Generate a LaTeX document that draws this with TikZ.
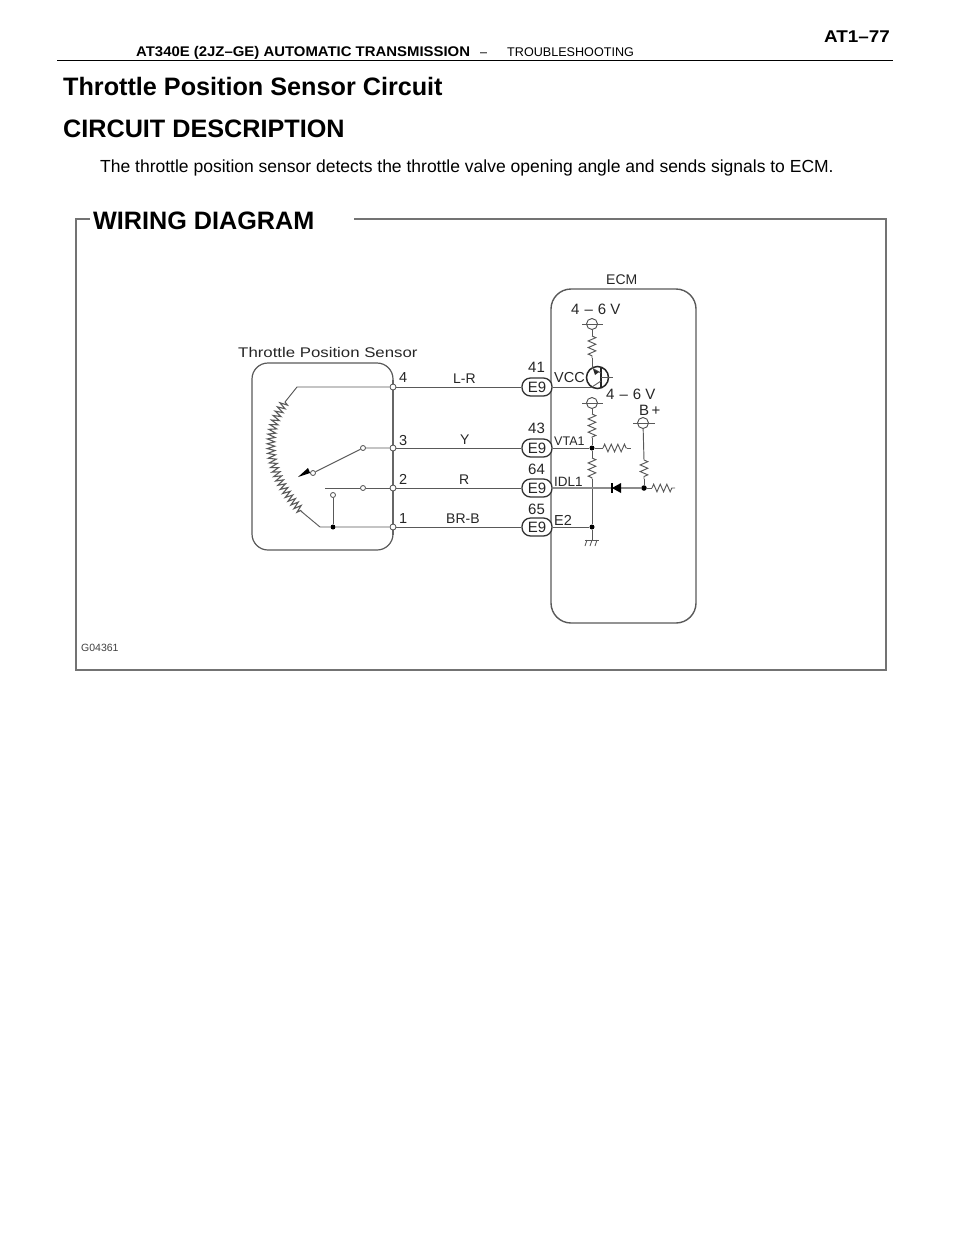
\documentclass[tikz,border=0pt]{standalone}
\usepackage{fontspec}
\setmainfont{Liberation Sans}
\usetikzlibrary{decorations.pathmorphing,arrows.meta}
\newcommand{\fsz}[1]{\fontsize{#1bp}{#1bp}\selectfont}
\tikzset{
 txt/.style={inner sep=0pt,anchor=base west,text=black},
 lbl/.style={inner sep=0pt,anchor=base west,text=black!85,font=\fsz{14}},
 wire/.style={draw=black!65,line width=0.95pt},
 bus/.style={draw=black!55,line width=1.6pt},
 pin/.style={circle,draw=black!70,fill=white,line width=0.8pt,inner sep=0pt,minimum size=6bp},
 dotn/.style={circle,fill=black,inner sep=0pt,minimum size=5.5bp},
 pill/.style={rounded corners=8.5bp,draw=black!80,fill=white,line width=1.3pt,minimum width=30bp,minimum height=18bp,inner sep=0pt,font=\fsz{15},text=black!85},
 supply/.style={circle,draw=black!70,line width=0.9pt,inner sep=0pt,minimum size=11bp},
 res/.style={wire,decoration={zigzag,segment length=6.6bp,amplitude=3.8bp},decorate},
 coil/.style={wire,line width=1.1pt,decoration={zigzag,segment length=4.6bp,amplitude=3.8bp},decorate},
}
\begin{document}
\begin{tikzpicture}[x=1bp,y=-1bp]
\useasboundingbox (0,0) rectangle (960,1242);
% page header
\draw[black,line width=1.6pt] (57,60.5) -- (893,60.5);
\node[txt,font=\fsz{14}\bfseries,xscale=1.065,transform shape] (hdr) at (136,56) {AT340E (2JZ--GE) AUTOMATIC TRANSMISSION};
\node[txt,font=\fsz{12.6}] (hdash) at (480,56) {--};
\node[txt,font=\fsz{12.6}] (hsec) at (507,56) {TROUBLESHOOTING};
\node[txt,font=\fsz{17}\bfseries,xscale=1.11,transform shape] (pg) at (824,42) {AT1--77};
\node[txt,font=\fsz{25.2}\bfseries] (title) at (63,95) {Throttle Position Sensor Circuit};
\node[txt,font=\fsz{25.2}\bfseries] (cd) at (63,137) {CIRCUIT DESCRIPTION};
\node[txt,font=\fsz{17.5}] (body) at (100,172) {The throttle position sensor detects the throttle valve opening angle and sends signals to ECM.};
% frame
\node[txt,font=\fsz{25.2}\bfseries] (wd) at (93,229) {WIRING DIAGRAM};
\draw[draw=black!55,line width=1.1pt] (90,219) -- (76,219) -- (76,670) -- (886,670) -- (886,219) -- (354,219);
\node[txt,text=black!75,font=\fsz{10.5}] (gnum) at (81,651) {G04361};
% sensor
\node[lbl,font=\fsz{14},xscale=1.2,transform shape] (tps) at (238,357) {Throttle Position Sensor};
\draw[draw=black!65,line width=1.2pt,rounded corners=16bp] (393,363) -- (252,363) -- (252,550) -- (393,550) -- cycle;
\draw[bus,draw=black!60] (393,380) -- (393,535);
\coordinate (c4) at (297,387);
\coordinate (coilA) at (285,402);
\coordinate (coilB) at (302,512);
\coordinate (c1) at (320,527);
\node[pin] (p4) at (393,387) {};
\node[pin] (p3) at (393,448) {};
\node[pin] (p2) at (393,488) {};
\node[pin] (p1) at (393,527) {};
\node[pin,minimum size=5bp] (s3) at (363,448) {};
\node[pin,minimum size=5bp] (s2) at (363,488) {};
\node[pin,minimum size=5bp] (s1) at (333,495) {};
\node[pin,minimum size=5bp] (wiper) at (313,473) {};
\node[dotn,minimum size=5bp] (j1) at (333,527) {};
\coordinate (s2end) at (325,488);
\coordinate (wtip) at (298,477);
\draw[wire] (p4) -- (c4) -- (coilA);
\draw[coil] (coilA) .. controls (262,435) and (267,475) .. (coilB);
\draw[wire] (coilB) -- (c1) -- (j1) -- (p1);
\draw[wire] (p3) -- (s3) -- (wiper);
\draw[wire] (p2) -- (s2) -- (s2end);
\draw[wire] (j1) -- (s1);
\fill[black] (wiper.west) -- (wtip) -- (308,468) -- cycle;
\node[lbl,font=\fsz{14.5}] (n4) at (399,382) {4};
\node[lbl,font=\fsz{14.5}] (n3) at (399,445) {3};
\node[lbl,font=\fsz{14.5}] (n2) at (399,484) {2};
\node[lbl,font=\fsz{14.5}] (n1) at (399,523) {1};
\node[lbl] (wlr) at (453,383) {L-R};
\node[lbl] (wy) at (460,444) {Y};
\node[lbl] (wr) at (459,484) {R};
\node[lbl] (wbr) at (446,523) {BR-B};
% ECM
\node[lbl,font=\fsz{14}] (ecm) at (606,284) {ECM};
\draw[draw=black!65,line width=1.4pt,rounded corners=20bp] (551,289) -- (696,289) -- (696,623) -- (551,623) -- cycle;
\node[pill] (e41) at (537,387) {E9};
\node[pill] (e43) at (537,448) {E9};
\node[pill] (e64) at (537,488) {E9};
\node[pill] (e65) at (537,527) {E9};
\node[lbl,font=\fsz{15}] (t41) at (528,372) {41};
\node[lbl,font=\fsz{15}] (t43) at (528,433) {43};
\node[lbl,font=\fsz{15}] (t64) at (528,474) {64};
\node[lbl,font=\fsz{15}] (t65) at (528,514) {65};
\draw[wire] (p4) -- (e41);
\draw[wire] (p3) -- (e43);
\draw[wire] (p2) -- (e64);
\draw[wire] (p1) -- (e65);
\node[lbl,font=\fsz{14.5}] (vcc) at (554,382) {VCC};
\node[lbl,font=\fsz{12.5}] (vta) at (554,445) {VTA1};
\node[lbl,font=\fsz{13.5}] (idl) at (554,486) {IDL1};
\node[lbl,font=\fsz{14.5}] (e2) at (554,525) {E2};
\node[lbl,font=\fsz{15}] (v1) at (571,314) {4\,\,--\,\,6 V};
\node[lbl,font=\fsz{15}] (v2) at (606,399) {4\,\,--\,\,6 V};
\node[lbl,font=\fsz{15}] (bp) at (639,415) {B\,+};
% supplies
\node[supply] (sup1) at (592,324) {};
\node[supply] (sup2) at (592,403) {};
\node[supply] (sup3) at (643,423) {};
\draw[wire] (582,324) -- (603,324);
\draw[wire] (582,403) -- (603,403);
\draw[wire] (633,423) -- (655,423);
% transistor
\node[circle,draw=black!85,line width=1.5pt,inner sep=0pt,minimum size=22bp] (tr) at (597.5,377.5) {};
\coordinate (r1a) at (592,336);
\coordinate (r1b) at (592,358);
\coordinate (trC) at (592,368);
\coordinate (trE) at (592,387);
\coordinate (trB) at (613,377);
\draw[wire] (sup1) -- (r1a);
\draw[res] (r1a) -- (r1b);
\draw[wire] (r1b) -- (trC);
\draw[wire] (e41) -- (trE);
\draw[black!85,line width=1.6pt] (601,367) -- (601,388);
\draw[wire] (601,377) -- (trB);
\draw[wire] (592,368) -- (601,373);
\draw[wire] (592,387) -- (601,381);
\fill[black!85] (599,372) -- (593,369) -- (595,375) -- cycle;
% VTA1
\node[dotn,minimum size=5bp] (j2) at (592,448) {};
\node[dotn,minimum size=5bp] (j3) at (592,527) {};
\node[dotn,minimum size=5.5bp] (j4) at (644,488) {};
\coordinate (r2a) at (592,414);
\coordinate (r2b) at (592,438);
\coordinate (r3a) at (592,458);
\coordinate (r3b) at (592,479);
\coordinate (r4a) at (603,448);
\coordinate (r4b) at (627,448);
\coordinate (r4c) at (631,448);
\coordinate (r5a) at (644,460);
\coordinate (r5b) at (644,479);
\coordinate (r6a) at (652,488);
\coordinate (r6b) at (675,488);
\coordinate (gnd) at (592,540);
\draw[wire] (sup2) -- (r2a);
\draw[res] (r2a) -- (r2b);
\draw[wire] (r2b) -- (j2);
\draw[wire] (e43) -- (j2);
\draw[wire] (j2) -- (r4a);
\draw[res] (r4a) -- (r4b);
\draw[wire] (r4b) -- (r4c);
\draw[wire] (j2) -- (r3a);
\draw[res] (r3a) -- (r3b);
\draw[wire] (r3b) -- (j3);
\draw[wire] (e65) -- (j3);
\draw[wire] (j3) -- (gnd);
\draw[wire] (585,540) -- (599,540);
\foreach \gx in {587,592,597} \draw[wire,line width=0.9pt] (\gx,540) -- (\gx-2,546);
% IDL1
\draw[wire,draw=black!45,line width=1.5pt] (e64) -- (j4);
\draw[wire] (sup3) -- (r5a);
\draw[res] (r5a) -- (r5b);
\draw[wire] (r5b) -- (j4);
\draw[wire] (j4) -- (r6a);
\draw[res] (r6a) -- (r6b);
\fill[black] (612,488) -- (621,483) -- (621,493) -- cycle;
\draw[black,line width=1.3pt] (612,483) -- (612,493);
\end{tikzpicture}
\end{document}
